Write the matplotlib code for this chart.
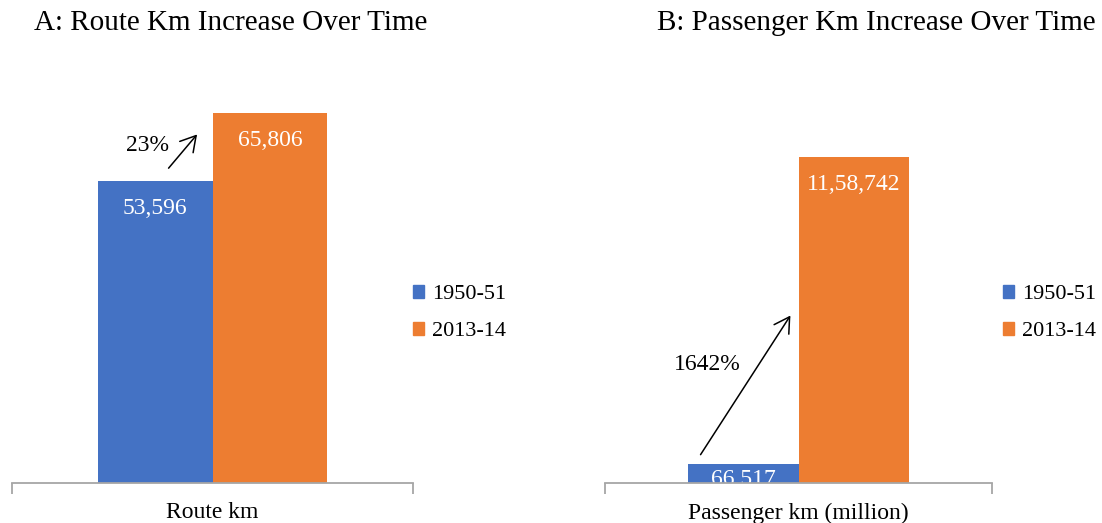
import matplotlib.pyplot as plt
from matplotlib.patches import Patch

plt.rcParams['font.family'] = ['Liberation Serif', 'DejaVu Serif']

years = ['1950-51', '2013-14']
colors = ['#4472C4', '#ED7D31']

route_km = [53596, 65806]
route_labels = ['53,596', '65,806']
pass_km = [66517, 1158742]
pass_labels = ['66,517', '11,58,742']

W, H = 1102, 523
fig = plt.figure(figsize=(W / 100, H / 100), dpi=100)


def panel(rect, values, labels, ymax, cat, title, title_x, leg_x, label_offsets):
    ax = fig.add_axes([rect[0] / W, (H - rect[3]) / H,
                       (rect[1] - rect[0]) / W, (rect[3] - rect[2]) / H])
    bw = 0.2865
    xs = [-bw / 2, bw / 2]
    for x, v, c, lab, off in zip(xs, values, colors, labels, label_offsets):
        ax.bar(x, v, width=bw, color=c, zorder=2)
        ax.annotate(lab, (x, v), xytext=(0, off), textcoords='offset pixels',
                    ha='center', va='top', color='white', fontsize=17,
                    clip_on=True, annotation_clip=False, zorder=4)
    ax.set_xlim(-0.5, 0.5)
    ax.set_ylim(0, ymax)
    for s in ['top', 'left', 'right']:
        ax.spines[s].set_visible(False)
    ax.spines['bottom'].set_color('#A6A6A6')
    ax.spines['bottom'].set_linewidth(1.3)
    ax.spines['bottom'].set_zorder(5)
    ax.set_yticks([])
    ax.set_xticks([0])
    ax.set_xticklabels([cat], fontsize=17)
    ax.tick_params(axis='x', length=0, pad=14)
    ax.set_xticks([-0.5, 0.5], minor=True)
    ax.tick_params(axis='x', which='minor', length=8, color='#A6A6A6', width=1.3)
    fig.text(title_x / W, 1 - 23 / H, title, ha='center', va='center', fontsize=21)
    handles = [Patch(color=c, label=y) for c, y in zip(colors, years)]
    fig.legend(handles=handles, loc='center left',
               bbox_to_anchor=(leg_x / W, 1 - 313 / H), frameon=False,
               fontsize=16, handlelength=0.5, handleheight=0.5,
               handletextpad=0.35, labelspacing=0.8, borderpad=0, borderaxespad=0)
    return ax


axA = panel((12, 413, 61, 483), route_km, route_labels, 75000, 'Route km',
            'A: Route Km Increase Over Time', 231, 413, [-17, -17])
axB = panel((605, 992, 89, 483), pass_km, pass_labels, 1400000,
            'Passenger km (million)', 'B: Passenger Km Increase Over Time', 876, 1003, [-5, -17])

# growth arrows
arrow = dict(arrowstyle='->,head_length=0.6,head_width=0.35', color='black', lw=1.1,
             mutation_scale=18)
axA.annotate('', xy=(0.466, 0.831), xytext=(0.386, 0.741), xycoords='axes fraction',
             arrowprops=arrow)
axA.text(0.337, 0.800, '23%', transform=axA.transAxes, ha='center', va='center', fontsize=17)
axB.annotate('', xy=(0.483, 0.431), xytext=(0.243, 0.066), xycoords='axes fraction',
             arrowprops=arrow)
axB.text(0.264, 0.302, '1642%', transform=axB.transAxes, ha='center', va='center', fontsize=17)

plt.savefig('out.png', dpi=100)
